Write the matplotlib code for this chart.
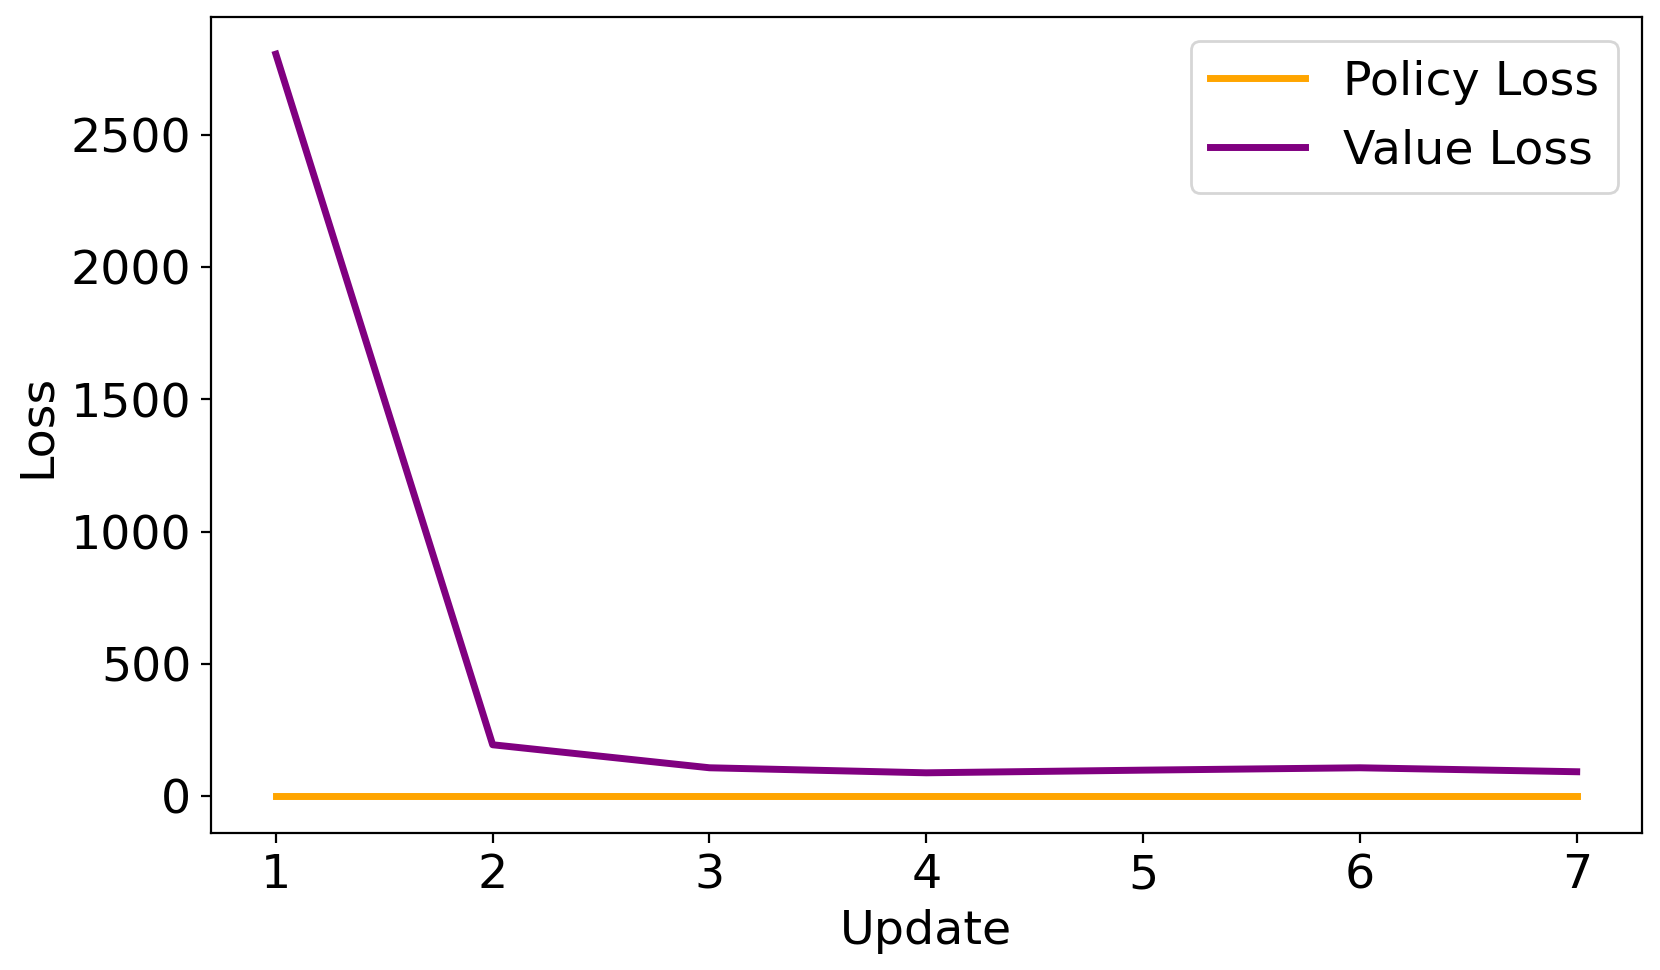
import matplotlib
matplotlib.use("Agg")
import matplotlib.pyplot as plt

updates = [1, 2, 3, 4, 5, 6, 7]
policy_loss = [0.0, 0.0, 0.0, 0.0, 0.0, 0.0, 0.0]
value_loss = [2805, 194, 107, 88, 98, 107, 92]

plt.rcParams["font.size"] = 17.1

fig, ax = plt.subplots(figsize=(8.3, 4.852), dpi=200)
ax.plot(updates, policy_loss, color="orange", linewidth=2.5, label="Policy Loss")
ax.plot(updates, value_loss, color="purple", linewidth=2.5, label="Value Loss")
ax.set_xlabel("Update")
ax.set_ylabel("Loss")
ax.set_xticks(updates)
ax.legend(loc="upper right")

fig.subplots_adjust(left=0.127, right=0.989, top=0.982, bottom=0.141)
fig.savefig("out.png", dpi=200)
